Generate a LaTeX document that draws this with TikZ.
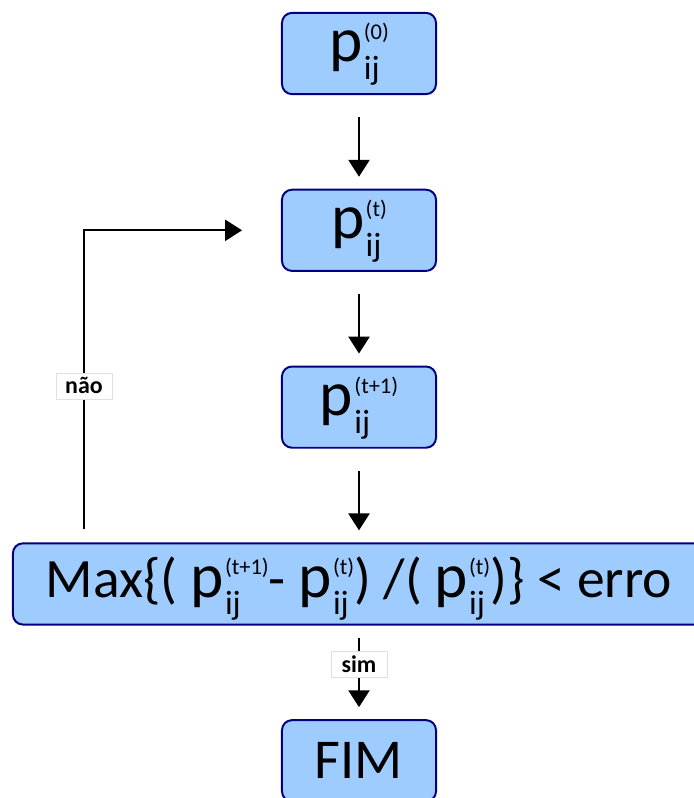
\documentclass[tikz,border=0pt]{standalone}
\usepackage{fontspec}
\setmainfont{Carlito}
\usetikzlibrary{arrows.meta, positioning}

\definecolor{boxfill}{HTML}{9FCCFF}
\definecolor{boxline}{HTML}{000080}

% p with stacked (super) and ij (sub)
\newcommand{\psz}{\fontsize{45}{45}\selectfont}
\newcommand{\supsz}{\fontsize{16}{16}\selectfont}
\newcommand{\subsz}{\fontsize{24}{24}\selectfont}
\newcommand{\pij}[1]{%
  {\psz p}\kern1pt%
  \setbox0=\hbox{\supsz #1}\setbox2=\hbox{\subsz ij}%
  \dimen0=\wd0 \ifdim\wd2>\dimen0 \dimen0=\wd2 \fi
  \makebox[\dimen0][l]{\rlap{\raisebox{16pt}{\copy0}}\raisebox{-12.5pt}{\copy2}}}

\begin{document}
\begin{tikzpicture}[
    x=0.025cm, y=-0.025cm,
    node distance=2.34cm,
    stepbox/.style={rectangle, draw=boxline, fill=boxfill, line width=1.4pt, rounded corners=0.25cm, minimum width=3.85cm, minimum height=2.03cm, inner sep=0pt, font=\fontsize{40}{40}\selectfont},
    ptext/.style={text height=31pt, text depth=19pt},
    widebox/.style={stepbox, minimum width=17.3cm, text height=38pt, text depth=19pt, font=\fontsize{39.5}{40}\selectfont},
    answer/.style={rectangle, draw=black!12, fill=white, line width=0.4pt, minimum width=1.4cm, minimum height=0.65cm, inner sep=2pt, font=\fontsize{17}{17}\selectfont\bfseries},
    arrow/.style={-{Triangle[length=12pt, width=15pt]}, line width=1.4pt, shorten <=0.55cm, shorten >=0.3cm}
]
\useasboundingbox (0,0) rectangle (694,798);
\clip (0,0) rectangle (694,798);

% Nodes
\node[stepbox, ptext] (p0) at (359,53.5) {\pij{(0)}};
\node[stepbox, ptext, below=of p0] (pt) {\pij{(t)}};
\node[stepbox, ptext, below=of pt] (pnext) {\pij{(t+1)}};
\node[widebox, below=of pnext] (check) {Max\{( \pij{(t+1)}- \pij{(t)}) /( \pij{(t)})\} < erro};
\node[stepbox, below=of check] (fim) {FIM};

\coordinate[above left=0.325cm and 6.875cm of check.north] (loopstart);
\coordinate[left=0.975cm of pt.west] (loopend);

% Arrows
\draw[arrow] (p0) -- (pt);
\draw[arrow] (pt) -- (pnext);
\draw[arrow] (pnext) -- (check);
\draw[arrow, shorten <=0pt, shorten >=0pt] (loopstart) |- node[answer, pos=0.24] {não} (loopend);
\draw[arrow, shorten <=0.3cm] (check) -- node[answer, pos=0.415] {sim} (fim);

\end{tikzpicture}
\end{document}
